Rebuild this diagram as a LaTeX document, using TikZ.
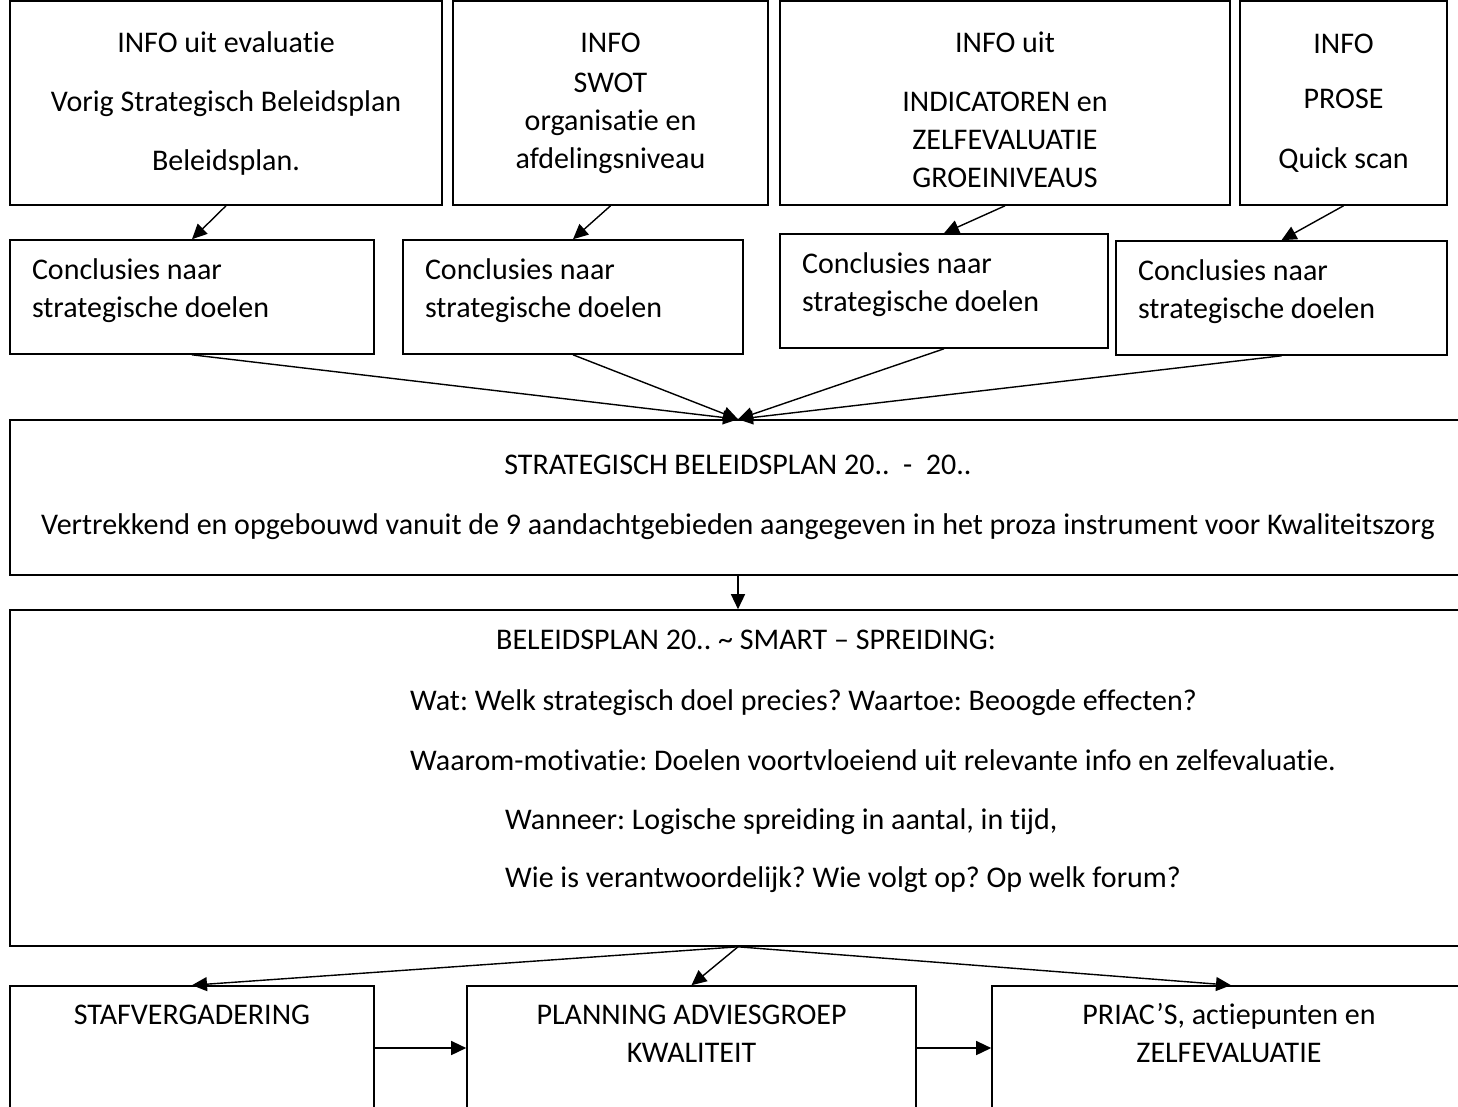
\documentclass[tikz,border=0pt]{standalone}
\usepackage{fontspec}
\setmainfont{Carlito}[Ligatures=CommonOff]
\frenchspacing
\usetikzlibrary{arrows.meta,positioning}
\newcommand{\concl}{Conclusies naar\\strategische doelen\\[-32pt]\strut}
\newcommand{\lw}{1.6pt}
\tikzset{
  box/.style={draw, line width=\lw, inner sep=0pt, align=center},
  cbox/.style={box, align=flush left, inner xsep=22pt, minimum height=114pt, text width=#1},
  txt/.style={inner sep=0pt, text height=22.5pt, text depth=7.5pt},
  arr/.style={line width=1.4pt, -{Triangle[length=15pt,width=14pt]}},
}

\begin{document}
\begin{tikzpicture}[x=1pt, y=-1pt, font=\fontsize{30}{38}\selectfont]
            \useasboundingbox (0,0) rectangle (1458,1106);
            \clip (0,0) rectangle (1458,1106);
                \node[box, minimum width=432pt, minimum height=204pt] (t1) at (226,103) {INFO uit evaluatie\\[21pt]Vorig Strategisch Beleidsplan\\[21pt]Beleidsplan.};
                \node[box, minimum width=315pt, minimum height=204pt] (t2) at (610.5,103) {INFO\\[2pt]SWOT\\organisatie en\\afdelingsniveau};
                \node[box, minimum width=450pt, minimum height=204pt] (t3) at (1005,103) {\rule{0pt}{34pt}INFO uit\\[21pt]INDICATOREN en\\ZELFEVALUATIE\\GROEINIVEAUS};
                \node[box, minimum width=207pt, minimum height=204pt] (t4) at (1343.5,103) {INFO\\[17pt]PROSE\\[22pt]Quick scan};
                \node[cbox=320pt] (c1) at (192,297) {\concl};
                \node[cbox=296pt] (c2) at (573,297) {\concl};
                \node[cbox=284pt] (c3) at (944,291) {\concl};
                \node[cbox=287pt] (c4) at (1281.5,298) {\concl};
                \node[box, minimum width=1456pt, minimum height=155pt] (sbp) at (738,497.5) {STRATEGISCH BELEIDSPLAN 20..~~-~~20..\\[22pt]Vertrekkend en opgebouwd vanuit de 9 aandachtgebieden aangegeven in het proza instrument voor Kwaliteitszorg};
                \node[box, minimum width=1456pt, minimum height=336pt] (bp) at (738,778) {};
                \node[txt, anchor=west] (bp1) at (496,642) {BELEIDSPLAN 20.. \textasciitilde{} SMART – SPREIDING:};
                \node[txt, anchor=west] (bp2) at (410,703) {Wat: Welk strategisch doel precies? Waartoe: Beoogde effecten?};
                \node[txt, anchor=west] (bp3) at (410,763) {Waarom-motivatie: Doelen voortvloeiend uit relevante info en zelfevaluatie.};
                \node[txt, anchor=west] (bp4) at (505,822) {Wanneer: Logische spreiding in aantal, in tijd,};
                \node[txt, anchor=west] (bp5) at (505,880) {Wie is verantwoordelijk? Wie volgt op? Op welk forum?};
                \node[box, minimum width=364pt, minimum height=124pt] (staf) at (192,1048) {};
                \node[box, minimum width=449pt, minimum height=124pt] (plan) at (691.5,1048) {};
                \node[box, minimum width=478pt, minimum height=124pt] (priac) at (1231,1048) {};
                \node[txt, anchor=base] (staf1) at (192,1024) {STAFVERGADERING};
                \node[txt, anchor=base] (plan1) at (691.5,1024) {PLANNING ADVIESGROEP};
                \node[txt, anchor=base] (plan2) at (691.5,1062) {KWALITEIT};
                \node[txt, anchor=base] (priac1) at (1229,1024) {PRIAC’S, actiepunten en};
                \node[txt, anchor=base] (priac2) at (1229,1062) {ZELFEVALUATIE};
                \draw[arr] (t1.south) -- (c1.north);
                \draw[arr] (t2.south) -- (c2.north);
                \draw[arr] (t3.south) -- (c3.north);
                \draw[arr] (t4.south) -- (c4.north);
                \draw[arr] (c1.south) -- (sbp.north);
                \draw[arr] (c2.south) -- (sbp.north);
                \draw[arr] (c3.south) -- (sbp.north);
                \draw[arr] (c4.south) -- (sbp.north);
                \draw[arr] (sbp.south) -- (bp.north);
                \draw[arr] (bp.south) -- (staf.north);
                \draw[arr] (bp.south) -- (plan.north);
                \draw[arr] (bp.south) -- (priac.north);
                \draw[arr] (staf.east) -- (plan.west);
                \draw[arr] (plan.east) -- (priac.west);
\end{tikzpicture}
\end{document}
